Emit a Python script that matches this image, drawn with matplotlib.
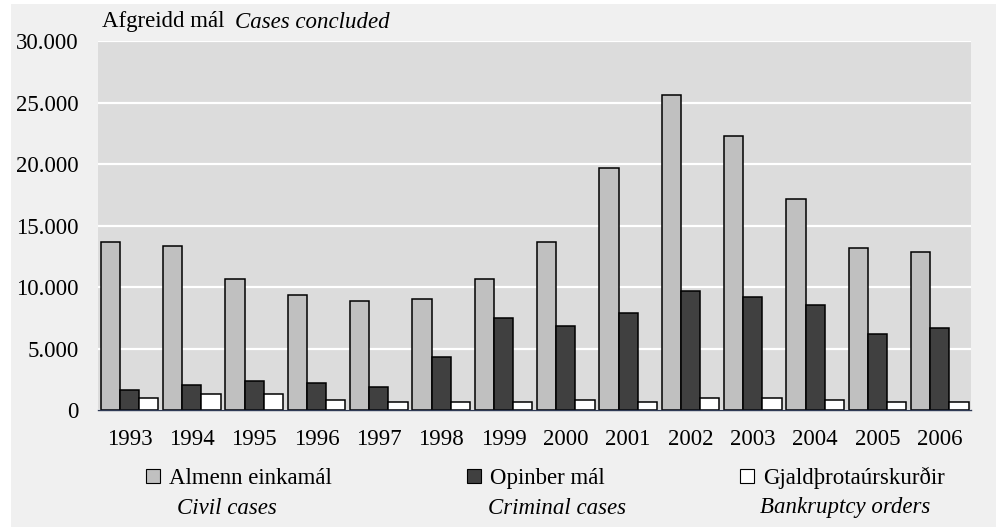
import numpy as np
import matplotlib
matplotlib.use('Agg')
import matplotlib.pyplot as plt
from matplotlib.patches import Rectangle
from matplotlib.ticker import FuncFormatter

years = ['1993', '1994', '1995', '1996', '1997', '1998', '1999',
         '2000', '2001', '2002', '2003', '2004', '2005', '2006']
civil = [13630, 13310, 10690, 9380, 8860, 9020, 10690,
         13630, 19680, 25670, 22330, 17130, 13150, 12820]
criminal = [1660, 2010, 2330, 2170, 1840, 4320, 7500,
            6850, 7860, 9710, 9220, 8530, 6170, 6690]
bankruptcy = [980, 1330, 1330, 820, 650, 650, 650,
              820, 650, 1000, 1000, 820, 650, 650]

labels_is = ['Almenn einkamál', 'Opinber mál', 'Gjaldþrotaúrskurðir']
labels_en = ['Civil cases', 'Criminal cases', 'Bankruptcy orders']
colors = ['#c0c0c0', '#404040', '#ffffff']

plt.rcParams['font.family'] = ['Liberation Serif', 'DejaVu Serif']
fs = 16.5

fig = plt.figure(figsize=(10, 5.27), dpi=100)
fig.patch.set_facecolor('white')
fig.patches.append(Rectangle((0.011, 0), 0.985, 1 - 4 / 527, transform=fig.transFigure,
                             facecolor='#f0f0f0', edgecolor='none', zorder=-10))

ax = fig.add_axes([0.0983, 1 - 410 / 527, 0.8727, (410 - 41.3) / 527])
ax.set_facecolor('#dcdcdc')

x = np.arange(len(years))
w = 0.308
bars = []
for i, (vals, c) in enumerate(zip([civil, criminal, bankruptcy], colors)):
    b = ax.bar(x + (i - 1) * w, vals, width=w, color=c, edgecolor='black',
               linewidth=1.1, zorder=3)
    bars.append(b)

ax.set_xlim(-0.5, len(years) - 0.5)
ax.set_ylim(0, 30000)
ax.set_yticks(np.arange(0, 30001, 5000))
ax.yaxis.set_major_formatter(FuncFormatter(lambda v, p: f'{v:,.0f}'.replace(',', '.')))
ax.grid(axis='y', color='white', linewidth=1.6, zorder=1)
ax.set_xticks(x)
ax.set_xticklabels(years)
ax.tick_params(axis='both', length=0, labelsize=fs)
ax.tick_params(axis='y', pad=14)
ax.tick_params(axis='x', pad=14)
for s in ['top', 'left', 'right']:
    ax.spines[s].set_visible(False)
ax.spines['bottom'].set_color('#2f3a55')
ax.spines['bottom'].set_linewidth(1.0)
ax.spines['bottom'].set_zorder(4)

fig.text(0.102, 1 - 22 / 527, 'Afgreidd mál', fontsize=fs, va='center')
fig.text(0.235, 1 - 22 / 527, 'Cases concluded', fontsize=fs, va='center', style='italic')

leg = fig.legend(bars, labels_is, ncol=3, loc='center left',
                 bbox_to_anchor=(0.146, 1 - 478 / 527), frameon=False, fontsize=fs,
                 handlelength=0.6, handleheight=0.6, handletextpad=0.4,
                 columnspacing=5.9, borderaxespad=0, borderpad=0)
for h in leg.legend_handles:
    h.set_linewidth(0.8)

for xpos, t in zip([0.177, 0.488, 0.760], labels_en):
    fig.text(xpos, 1 - 508 / 527, t, fontsize=fs, style='italic', va='center')

fig.savefig('out.png', dpi=100)
